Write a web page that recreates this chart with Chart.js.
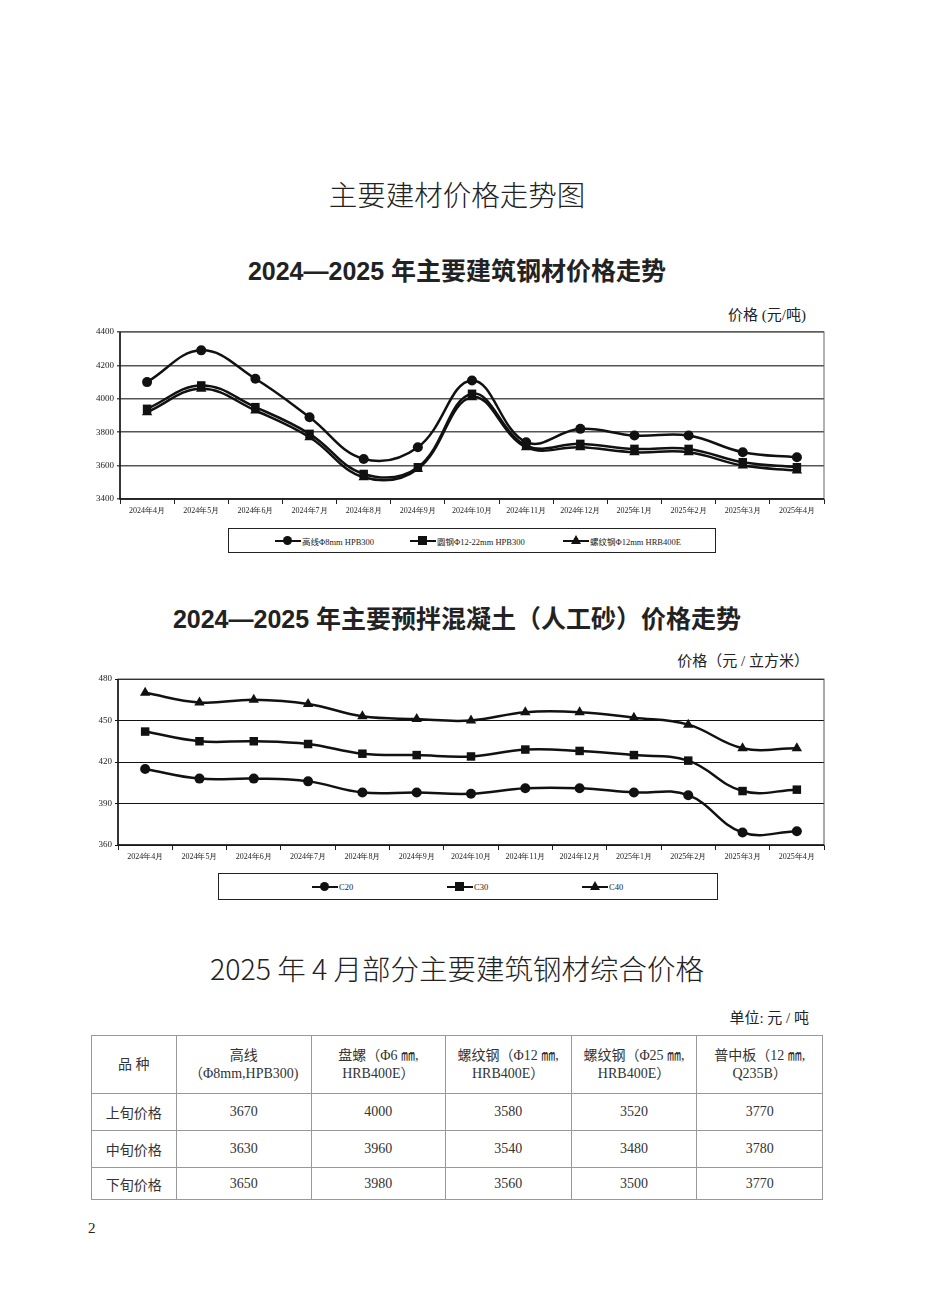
<!DOCTYPE html>
<html>
<head>
<meta charset="utf-8">
<script src="https://cdn.jsdelivr.net/npm/chart.js@4.4.0/dist/chart.umd.min.js"></script>
<style>
  html, body { margin:0; padding:0; background:#fff; }
  body { width:950px; height:1290px; position:relative; overflow:hidden;
         font-family:"Liberation Serif","Noto Sans CJK SC",serif; color:#222; }
  .abs { position:absolute; }
  .center { left:0; width:914px; text-align:center; }
  .h1 { font-family:"Noto Sans CJK SC",sans-serif; font-size:28.5px; font-weight:300; }
  .h2 { font-family:"Liberation Sans","Noto Sans CJK SC",sans-serif; font-size:25px; font-weight:bold; }
  .unit { font-family:"Liberation Serif","Noto Sans CJK SC",serif; font-size:15px; text-align:right; }
  .legend { border:1px solid #222; box-sizing:border-box; }
  .lg { position:absolute; top:0; height:100%; display:flex; align-items:center;
        font-family:"Liberation Serif","Noto Sans CJK SC",serif; font-size:8.5px; color:#222; }
  .lg .ln { position:relative; width:26px; height:0; border-top:2.5px solid #111; margin-right:1px; }
  .lg .mk { position:absolute; left:8px; top:-6px; }
  .circ { width:9px; height:9px; border-radius:50%; background:#111; }
  .sq { width:9px; height:9px; background:#111; }
  .tri { width:0; height:0; border-left:5px solid transparent; border-right:5px solid transparent; border-bottom:9px solid #111; }
  table { border-collapse:collapse; font-family:"Liberation Serif","Noto Sans CJK SC",serif; font-size:14px; color:#333; }
  td { border:1px solid #999; text-align:center; padding:0; }
</style>
</head>
<body>

<div class="abs center h1" style="top:173px;">主要建材价格走势图</div>
<div class="abs center h2" style="top:251px;">2024—2025 年主要建筑钢材价格走势</div>
<div class="abs unit" style="right:144px; top:303px;">价格 (元/吨)</div>

<canvas id="steel" class="abs" style="left:80px; top:322px;" width="760" height="205"></canvas>

<div class="abs legend" style="left:228px; top:528px; width:488px; height:25px;">
  <div class="lg" style="left:46px;"><span class="ln"><span class="mk circ" style="top:-6px;"></span></span>高线Φ8mm HPB300</div>
  <div class="lg" style="left:181px;"><span class="ln"><span class="mk sq" style="top:-6px;"></span></span>圆钢Φ12-22mm HPB300</div>
  <div class="lg" style="left:334px;"><span class="ln"><span class="mk tri" style="top:-7px;"></span></span>螺纹钢Φ12mm HRB400E</div>
</div>

<div class="abs center h2" style="top:599px;">2024—2025 年主要预拌混凝土（人工砂）价格走势</div>
<div class="abs unit" style="right:141px; top:649px;">价格（元 / 立方米）</div>

<canvas id="concrete" class="abs" style="left:80px; top:670px;" width="760" height="200"></canvas>

<div class="abs legend" style="left:218px; top:873px; width:500px; height:27px;">
  <div class="lg" style="left:93px;"><span class="ln"><span class="mk circ" style="top:-6px;"></span></span>C20</div>
  <div class="lg" style="left:228px;"><span class="ln"><span class="mk sq" style="top:-6px;"></span></span>C30</div>
  <div class="lg" style="left:363px;"><span class="ln"><span class="mk tri" style="top:-7px;"></span></span>C40</div>
</div>

<div class="abs center h1" style="top:947px;">2025 年 4 月部分主要建筑钢材综合价格</div>
<div class="abs unit" style="right:141px; top:1006px;">单位: 元 / 吨</div>

<table id="tbl" class="abs" style="left:91px; top:1035px; width:732px; border:1.5px solid #777;"></table>

<div class="abs" style="left:88px; top:1220px; font-size:15px;">2</div>

<script>
// ---- data ----
const months = ["2024年4月","2024年5月","2024年6月","2024年7月","2024年8月","2024年9月","2024年10月",
                "2024年11月","2024年12月","2025年1月","2025年2月","2025年3月","2025年4月"];

const steelNames = ["高线Φ8mm HPB300", "圆钢Φ12-22mm HPB300", "螺纹钢Φ12mm HRB400E"];
const wireRod  = [4100, 4290, 4120, 3890, 3640, 3710, 4110, 3740, 3820, 3780, 3780, 3680, 3650];
const roundBar = [3940, 4080, 3950, 3790, 3550, 3590, 4030, 3720, 3730, 3700, 3700, 3620, 3590];
const rebar    = [3920, 4060, 3930, 3770, 3530, 3580, 4010, 3710, 3710, 3680, 3680, 3600, 3570];

const concreteNames = ["C20", "C30", "C40"];
const c20 = [415, 408, 408, 406, 398, 398, 397, 401, 401, 398, 396, 369, 370];
const c30 = [442, 435, 435, 433, 426, 425, 424, 429, 428, 425, 421, 399, 400];
const c40 = [470, 463, 465, 462, 453, 451, 450, 456, 456, 452, 447, 430, 430];

const tableHead = ["品 种", "高线<br>（Φ8mm,HPB300)", "盘螺（Φ6 ㎜,<br>HRB400E）",
                   "螺纹钢（Φ12 ㎜,<br>HRB400E）", "螺纹钢（Φ25 ㎜,<br>HRB400E）", "普中板（12 ㎜,<br>Q235B）"];
const rowLabels = ["上旬价格", "中旬价格", "下旬价格"];
const earlyPrices = [3670, 4000, 3580, 3520, 3770];
const midPrices   = [3630, 3960, 3540, 3480, 3780];
const latePrices  = [3650, 3980, 3560, 3500, 3770];

// ---- table ----
(function buildTable(){
  const t = document.getElementById("tbl");
  const widths = [85, 135, 134, 126, 126, 126];
  const heights = [57, 36, 36, 31];
  let html = "<tr>" + tableHead.map((h,i) => `<td style="width:${widths[i]}px;height:${heights[0]}px;line-height:18px;">${h}</td>`).join("") + "</tr>";
  [earlyPrices, midPrices, latePrices].forEach((row, r) => {
    html += `<tr><td style="height:${heights[r+1]}px;">${rowLabels[r]}</td>` + row.map(v => `<td>${v}</td>`).join("") + "</tr>";
  });
  t.innerHTML = html;
})();

// ---- charts ----
const plotBorder = {
  id: "plotBorder",
  afterDraw(chart, args, opts){
    const { ctx, chartArea: a } = chart;
    ctx.save();
    ctx.strokeStyle = opts.color || "#666";
    ctx.lineWidth = 1;
    ctx.strokeRect(a.left, a.top, a.right - a.left, a.bottom - a.top);
    ctx.strokeStyle = "#111";
    ctx.lineWidth = 1.5;
    ctx.beginPath();
    ctx.moveTo(a.left, a.top); ctx.lineTo(a.left, a.bottom); ctx.lineTo(a.right, a.bottom);
    ctx.stroke();
    ctx.restore();
  }
};

function ds(label, data, pointStyle, radius){
  return {
    label, data, pointStyle,
    borderColor: "#111", backgroundColor: "#111",
    borderWidth: 2.5, pointRadius: radius, pointHoverRadius: radius,
    pointBorderWidth: 0, tension: 0.4, fill: false
  };
}

function makeChart(id, datasets, cfg){
  return new Chart(document.getElementById(id).getContext("2d"), {
    type: "line",
    data: { labels: months, datasets },
    options: {
      responsive: false, animation: false,
      layout: { padding: { top: cfg.padTop, right: 16, left: 0, bottom: 0 } },
      plugins: { legend: { display: false }, tooltip: { enabled: false }, plotBorder: { color: cfg.borderColor } },
      scales: {
        x: {
          offset: true,
          grid: { offset: true, drawOnChartArea: false, drawTicks: true, tickLength: 5, color: "#222", lineWidth: 1 },
          border: { display: false },
          ticks: { color: "#222", maxRotation: 0, autoSkip: false, padding: 2,
                   font: { family: "Liberation Serif", size: 8 } },
          afterFit: s => { s.height = cfg.xHeight; }
        },
        y: {
          min: cfg.min, max: cfg.max,
          grid: { color: cfg.gridColor, lineWidth: cfg.gridWidth, drawTicks: true, tickLength: 3 },
          border: { display: false },
          ticks: { stepSize: cfg.step, color: "#222", padding: 3, font: { family: "Liberation Serif", size: 9 },
                   callback: v => String(v) },
          afterFit: s => { s.width = cfg.yWidth; }
        }
      }
    },
    plugins: [plotBorder]
  });
}

makeChart("steel", [
  ds(steelNames[0], wireRod, "circle", 5),
  ds(steelNames[1], roundBar, "rect", 6),
  ds(steelNames[2], rebar, "triangle", 6)
], { padTop: 10, xHeight: 28, yWidth: 40, min: 3400, max: 4400, step: 200,
     gridColor: "#555", gridWidth: 1.5, borderColor: "#666" });

makeChart("concrete", [
  ds(concreteNames[0], c20, "circle", 5),
  ds(concreteNames[1], c30, "rect", 6),
  ds(concreteNames[2], c40, "triangle", 6)
], { padTop: 9, xHeight: 25, yWidth: 38, min: 360, max: 480, step: 30,
     gridColor: "#111", gridWidth: 1, borderColor: "#555" });
</script>
</body>
</html>
